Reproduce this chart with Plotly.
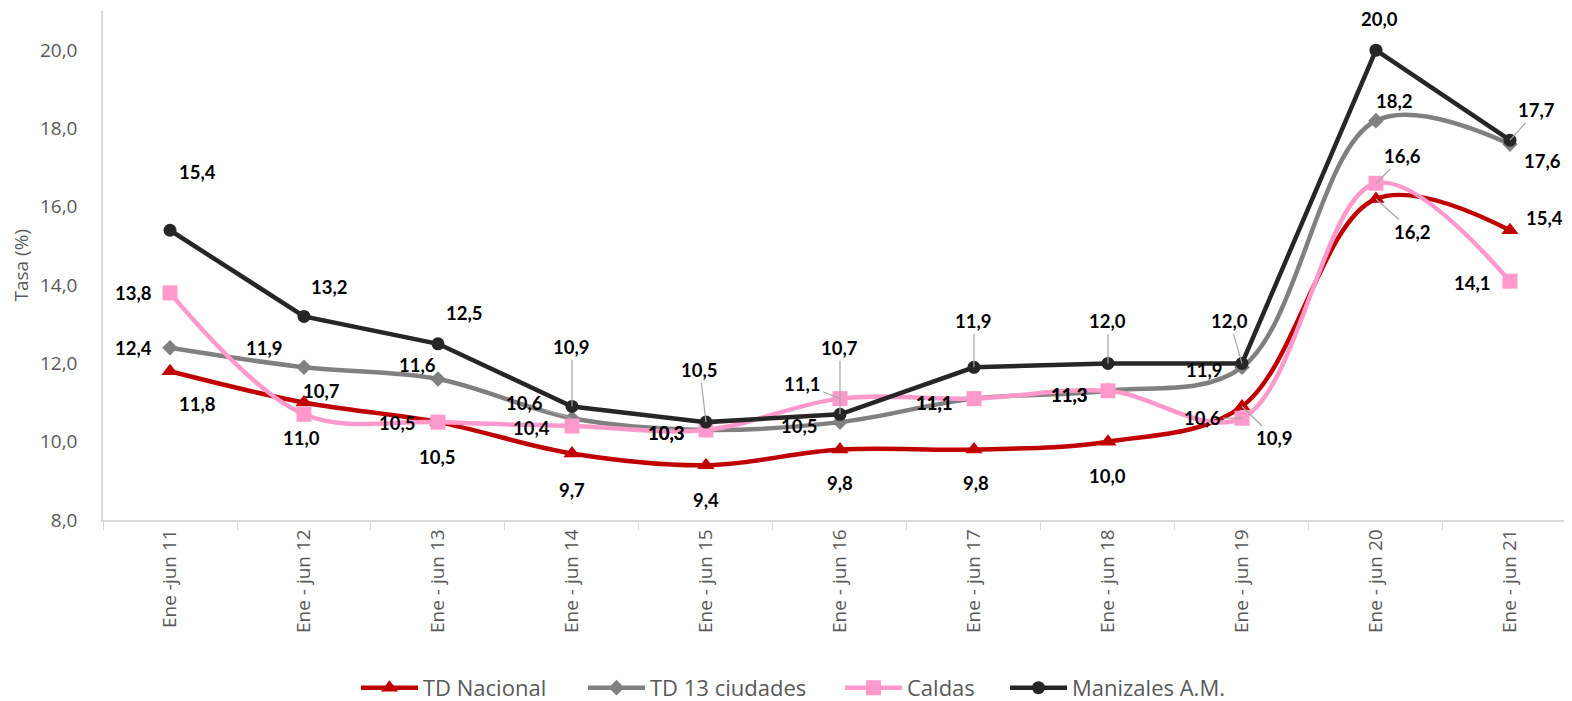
import plotly.graph_objects as go

categories = ["Ene -jun 11", "Ene - jun 12", "Ene - jun 13", "Ene - jun 14", "Ene - jun 15",
              "Ene - jun 16", "Ene - jun 17", "Ene - jun 18", "Ene - jun 19", "Ene - jun 20",
              "Ene - jun 21"]

td_nacional = [11.8, 11.0, 10.5, 9.7, 9.4, 9.8, 9.8, 10.0, 10.9, 16.2, 15.4]
td_13 = [12.4, 11.9, 11.6, 10.6, 10.3, 10.5, 11.1, 11.3, 11.9, 18.2, 17.6]
caldas = [13.8, 10.7, 10.5, 10.4, 10.3, 11.1, 11.1, 11.3, 10.6, 16.6, 14.1]
manizales = [15.4, 13.2, 12.5, 10.9, 10.5, 10.7, 11.9, 12.0, 12.0, 20.0, 17.7]

series_names = ["TD Nacional", "TD 13 ciudades", "Caldas", "Manizales A.M."]

# label offsets in pixels (dx, dy downward), and whether a leader line is drawn
lab_nac = [(27, 33, 0), (-2, 35, 0), (0, 35, 0), (0, 37, 0), (0, 35, 0), (0, 33, 0), (2, 33, 0),
           (0, 34, 0), (33, 32, 1), (37, 33, 1), (35, -12, 0)]
lab_13 = [(-37, 0, 0), (-39, -19, 0), (-20, -14, 0), (-47, -15, 1), (-39, 3, 0), (-40, 4, 0),
          (-39, 4, 0), (-38, 4, 0), (-37, 3, 0), (19, -20, 0), (33, 17, 0)]
lab_cal = [(-37, 0, 0), (18, -23, 0), (-40, 1, 0), (-40, 2, 0), (-39, 3, 0), (-37, -15, 1),
           (-39, 4, 0), (-38, 4, 0), (-39, 0, 1), (27, -27, 1), (-37, 2, 0)]
lab_man = [(27, -58, 0), (26, -29, 0), (27, -31, 0), (0, -59, 1), (-6, -52, 1), (0, -66, 1),
           (0, -46, 1), (0, -42, 1), (-12, -42, 1), (4, -31, 0), (27, -30, 1)]

colors = ["#C00000", "#808080", "#FF99CC", "#262626"]
symbols = ["triangle-up", "diamond", "square", "circle"]
msizes = [15, 12, 15, 13]
shapes = ["spline", "spline", "spline", "linear"]
legend_ids = ["legend", "legend2", "legend3", "legend4"]
legend_x = [348, 575, 832, 997]  # left edge of each legend entry, px

fig = go.Figure()
all_vals = [td_nacional, td_13, caldas, manizales]
all_labs = [lab_nac, lab_13, lab_cal, lab_man]

for name, vals, col, sym, ms, shp, lid in zip(series_names, all_vals, colors, symbols, msizes,
                                               shapes, legend_ids):
    fig.add_trace(go.Scatter(
        x=categories, y=vals, name=name, mode="lines+markers",
        line=dict(color=col, width=4.5, shape=shp, smoothing=1.0),
        marker=dict(symbol=sym, size=ms, color=col),
        legend=lid,
    ))

lab_font = dict(family="Lato", size=18.5, color="#000000")
annotations = []
for vals, labs in zip(all_vals, all_labs):
    for cat, v, (dx, dy, lead) in zip(categories, vals, labs):
        txt = f"{v:.1f}".replace(".", ",")
        if lead:
            annotations.append(dict(
                x=cat, y=v, xref="x", yref="y", text=f"<b>{txt}</b>",
                showarrow=True, arrowhead=0, arrowwidth=1.2, arrowcolor="#A6A6A6",
                ax=dx, ay=dy, standoff=0, font=lab_font,
            ))
        else:
            annotations.append(dict(
                x=cat, y=v, xref="x", yref="y", text=f"<b>{txt}</b>",
                showarrow=False, xshift=dx, yshift=-dy, font=lab_font,
            ))

annotations.append(dict(
    text="Tasa (%)", xref="paper", yref="paper", x=-0.0565, y=0.5, xanchor="center", yanchor="middle",
    textangle=-90, showarrow=False, font=dict(family="Open Sans", size=19, color="#595959"),
))

W, H = 1564, 693
legend_common = dict(orientation="h", xref="container", xanchor="left",
                     yref="container", y=0.019, yanchor="middle",
                     font=dict(family="Open Sans", size=22, color="#595959"),
                     itemwidth=57, bgcolor="rgba(0,0,0,0)")

layout_legends = {}
for lid, lx in zip(legend_ids, legend_x):
    layout_legends[lid] = dict(legend_common, x=lx / W)

fig.update_layout(
    width=W, height=H,
    margin=dict(l=95, r=0, t=3, b=181),
    paper_bgcolor="white", plot_bgcolor="white",
    showlegend=True,
    annotations=annotations,
    separators=",.",
    **layout_legends,
)

fig.update_xaxes(
    type="category", range=[-0.5, 10.463], automargin=False,
    showline=True, linecolor="#D9D9D9", linewidth=1.5,
    ticks="outside", tickson="boundaries", ticklen=8, tickcolor="#D9D9D9",
    tickangle=-90, showgrid=False,
    tickfont=dict(family="Open Sans", size=19, color="#595959"),
)
fig.update_yaxes(
    range=[8, 21], tickvals=[8, 10, 12, 14, 16, 18, 20], tickformat=".1f", automargin=False,
    showline=True, linecolor="#D9D9D9", linewidth=1.5, showgrid=False, zeroline=False,
    tickfont=dict(family="Open Sans", size=19, color="#595959"),
    ticks="", ticklabelstandoff=20,
)

fig.write_html("out.html")
